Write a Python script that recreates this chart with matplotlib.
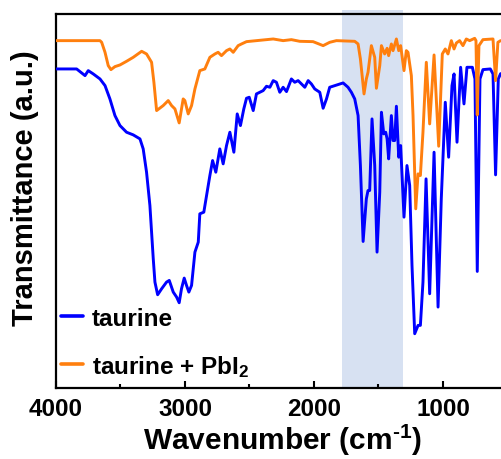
import matplotlib
matplotlib.use("Agg")
import matplotlib.pyplot as plt

plt.rcParams['font.family'] = ['Liberation Sans', 'DejaVu Sans']
plt.rcParams['font.weight'] = 'bold'
plt.rcParams['mathtext.fontset'] = 'custom'
plt.rcParams['mathtext.rm'] = 'Liberation Sans:bold'
plt.rcParams['mathtext.it'] = 'Liberation Sans:bold'
plt.rcParams['mathtext.bf'] = 'Liberation Sans:bold'

# taurine (blue)
taurine_wn = [4000, 3840, 3801, 3775, 3750, 3711, 3659, 3620, 3582, 3543, 3504, 3453, 3401, 3349,
              3324, 3298, 3272, 3246, 3233, 3212, 3181, 3143, 3122, 3091, 3065, 3045, 3027, 3006,
              2988, 2970, 2949, 2923, 2897, 2885, 2854, 2833, 2807, 2786, 2761, 2730, 2704, 2678,
              2652, 2621, 2595, 2570, 2544, 2523, 2502, 2471, 2446, 2420, 2394, 2368, 2342, 2316,
              2291, 2265, 2239, 2213, 2175, 2149, 2123, 2097, 2071, 2045, 2020, 1994, 1955, 1929,
              1903, 1878, 1839, 1800, 1774, 1736, 1710, 1684, 1658, 1640, 1619, 1594, 1581, 1568,
              1550, 1529, 1511, 1490, 1477, 1459, 1444, 1433, 1421, 1400, 1387, 1374, 1361, 1343,
              1328, 1302, 1279, 1258, 1240, 1219, 1193, 1175, 1155, 1131, 1103, 1069, 1038, 1013,
              982, 956, 930, 914, 891, 863, 837, 814, 772, 752, 734, 713, 690, 633, 612, 592, 571, 553]
taurine_t = [95.8, 95.8, 94.6, 93.8, 95.3, 94.3, 92.8, 90.8, 86.8, 81.8, 78.8, 76.8, 76.0, 74.8,
             71.8, 64.8, 54.8, 38.8, 31.8, 28.0, 29.8, 31.8, 32.3, 28.8, 27.3, 25.6, 29.8, 33.0,
             30.8, 28.8, 30.8, 40.8, 43.8, 52.3, 52.8, 57.8, 63.8, 68.3, 64.8, 71.8, 67.3, 72.8,
             76.8, 70.8, 82.3, 78.8, 83.8, 87.0, 87.3, 83.3, 88.3, 88.8, 89.3, 90.6, 90.3, 92.3,
             91.8, 88.8, 90.3, 89.0, 92.8, 91.8, 92.3, 91.3, 90.3, 92.3, 91.3, 89.8, 88.8, 84.0,
             86.8, 90.3, 90.8, 91.3, 91.6, 90.3, 88.8, 86.8, 81.8, 66.8, 44.0, 56.8, 59.3, 59.3,
             80.8, 66.8, 40.8, 58.8, 82.8, 76.3, 76.8, 74.8, 68.8, 81.8, 74.3, 74.3, 84.6, 69.3,
             72.8, 51.3, 66.8, 60.8, 36.8, 16.3, 18.8, 18.8, 31.8, 62.8, 28.3, 70.8, 24.3, 56.8,
             85.8, 69.3, 90.8, 94.3, 73.8, 96.3, 85.3, 96.3, 96.3, 92.8, 35.0, 92.8, 95.6, 95.8,
             94.3, 64.0, 92.8, 94.4]

# taurine + PbI2 (orange)
pbi_wn = [4000, 3659, 3646, 3620, 3595, 3574, 3543, 3504, 3453, 3401, 3336, 3298, 3259, 3241,
          3220, 3169, 3130, 3104, 3078, 3045, 3014, 3001, 2975, 2949, 2923, 2885, 2846, 2807,
          2768, 2743, 2717, 2678, 2652, 2626, 2588, 2562, 2523, 2446, 2368, 2316, 2239, 2175,
          2110, 2007, 1929, 1878, 1826, 1684, 1658, 1640, 1612, 1594, 1581, 1555, 1529, 1516,
          1490, 1477, 1452, 1433, 1421, 1400, 1387, 1361, 1343, 1328, 1302, 1284, 1271, 1245,
          1232, 1211, 1193, 1175, 1155, 1129, 1103, 1069, 1033, 1005, 982, 961, 935, 914, 896,
          871, 845, 819, 793, 754, 744, 734, 721, 690, 612, 592, 574, 553]
pbi_t = [104.3, 104.3, 103.8, 100.8, 96.8, 95.6, 96.5, 97.0, 98.1, 99.3, 101.1, 100.3, 97.8, 91.8,
         83.3, 84.8, 86.3, 84.8, 83.8, 79.6, 86.8, 86.3, 82.3, 84.8, 89.8, 95.3, 95.8, 99.3,
         100.3, 100.8, 99.8, 101.3, 101.8, 100.8, 102.8, 103.3, 104.0, 104.3, 104.6, 104.8, 104.3, 104.6,
         104.1, 104.0, 102.8, 103.8, 104.3, 104.1, 103.3, 98.8, 88.3, 92.8, 94.8, 102.8, 99.3, 90.0,
         96.8, 102.8, 100.3, 102.0, 99.8, 103.3, 101.3, 104.8, 101.3, 102.8, 95.3, 101.3, 100.8, 93.8,
         81.8, 53.8, 64.3, 63.8, 76.8, 97.8, 79.3, 100.0, 72.6, 100.3, 101.8, 100.3, 104.3, 101.8, 103.6,
         104.3, 102.8, 104.8, 104.3, 105.0, 104.3, 82.0, 102.8, 104.6, 104.8, 92.3, 103.8, 104.3]

labels = ['taurine', 'taurine + PbI$_2$']
colors = ['#0000ff', '#ff7f0e']
xticks = [4000, 3000, 2000, 1000]
highlight = (1780, 1310)

fig = plt.figure(figsize=(5.01, 4.60), dpi=100)
ax = fig.add_axes([56/501, 1-389/460, 445/501, 374/460])

ax.axvspan(highlight[0], highlight[1], ymin=0, ymax=1.011, color='#d7e1f2', lw=0,
           zorder=0, clip_on=False)
ax.plot(taurine_wn, taurine_t, color=colors[0], lw=2.1, label=labels[0], zorder=3,
        solid_joinstyle='round', solid_capstyle='round')
ax.plot(pbi_wn, pbi_t, color=colors[1], lw=2.1, label=labels[1], zorder=3,
        solid_joinstyle='round', solid_capstyle='round')

ax.set_xlim(4000, 550)
ax.set_ylim(0, 112.3)
ax.set_xticks(xticks)
ax.set_xticklabels([str(v) for v in xticks])
ax.set_xticks([3500, 2500, 1500], minor=True)
ax.tick_params(axis='x', which='major', direction='in', length=5, width=1.5,
               labelsize=17.5, pad=6.5)
ax.tick_params(axis='x', which='minor', direction='in', length=3, width=1.5)
ax.set_yticks([])
for s in ['left', 'bottom', 'top']:
    ax.spines[s].set_linewidth(1.6)
ax.spines['right'].set_visible(False)

ax.set_xlabel('Wavenumber (cm$^{\u2010 1}$)', fontsize=21.5, fontweight='bold')
ax.set_ylabel('Transmittance (a.u.)', fontsize=21, fontweight='bold')
ax.xaxis.set_label_coords(0.508, -0.09)
ax.yaxis.set_label_coords(-0.038, 0.537)

leg = ax.legend(loc='lower left', bbox_to_anchor=(5/445, 0.025), frameon=False,
                fontsize=17.5, handlelength=0.92, handletextpad=0.35,
                labelspacing=0.95, borderpad=0, borderaxespad=0)
for h in leg.get_lines():
    h.set_linewidth(2.6)

fig.savefig('out.png', dpi=100)
